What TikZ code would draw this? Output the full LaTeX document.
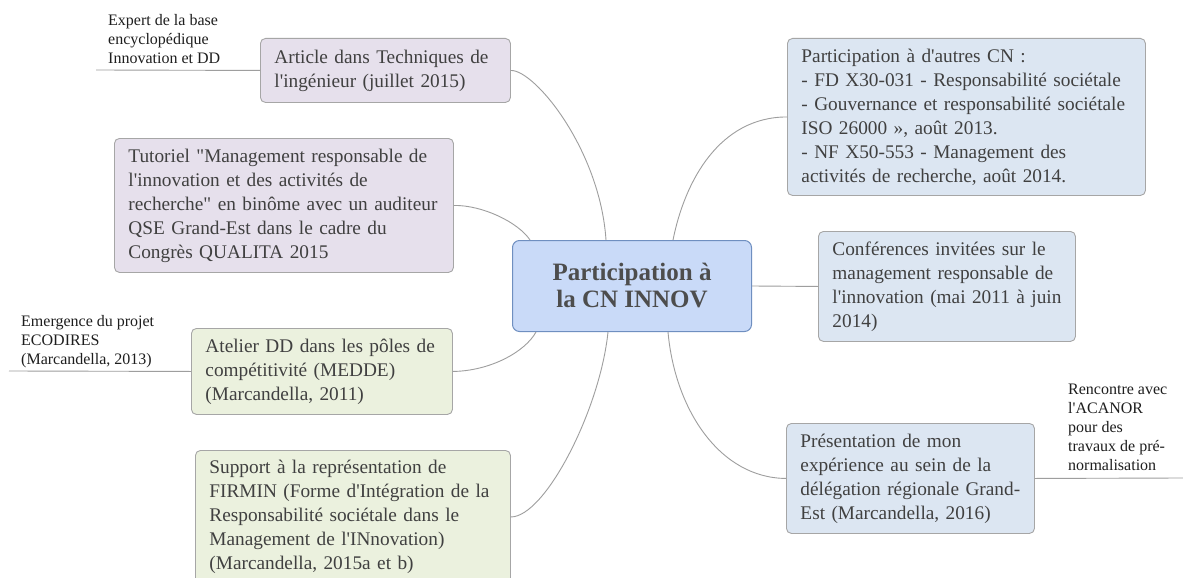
\documentclass[tikz,border=0pt]{standalone}
\usepackage{fontspec}
\setmainfont{Liberation Serif}[Ligatures=TeXOff]
\usetikzlibrary{calc}
\definecolor{purp}{HTML}{E6E0EC}
\definecolor{grn}{HTML}{EBF1DE}
\definecolor{blu}{HTML}{DCE6F2}
\definecolor{cfill}{HTML}{C9DAF8}
\definecolor{cline}{HTML}{6F8FC0}
\definecolor{boxline}{HTML}{A6A6A6}
\definecolor{connc}{HTML}{9E9E9E}
\definecolor{txt}{HTML}{404040}
\definecolor{ctxt}{HTML}{4D4D4D}
\definecolor{lbltxt}{HTML}{1E1E1E}
\tikzset{
  box/.style={draw=boxline, rounded corners=5pt, line width=0.9pt, anchor=north west,
    inner xsep=14pt, inner ysep=0pt, align=left, text=txt,
    font=\fontsize{19.3}{24}\selectfont},
  purplebox/.style={box, fill=purp},
  greenbox/.style={box, fill=grn},
  bluebox/.style={box, fill=blu},
  centerbox/.style={draw=cline, fill=cfill, rounded corners=7pt, line width=1pt,
    anchor=north west, inner sep=0pt, align=center, text=ctxt,
    font=\fontsize{25}{27}\selectfont\bfseries},
  lbl/.style={anchor=north west, inner sep=0pt, align=left, text=lbltxt,
    font=\fontsize{16}{19}\selectfont},
  conn/.style={draw=connc, line width=0.9pt},
}
\begin{document}
\begin{tikzpicture}[x=1pt,y=-1pt]
\useasboundingbox (0,0) rectangle (1183,578);
\fill[white] (0,0) rectangle (1183,578);

% centre
\node[centerbox, minimum width=239pt, minimum height=91pt] (c) at (512,240)
  {Participation à\\la CN INNOV};

% left side
\node[purplebox, text width=222pt, minimum height=64pt] (art) at (260,38)
  {Article dans Techniques de\\l'ingénieur (juillet 2015)};
\node[purplebox, text width=311pt, minimum height=134pt] (tut) at (114,138)
  {Tutoriel "Management responsable de\\l'innovation et des activités de\\recherche" en binôme avec un auditeur\\QSE Grand-Est dans le cadre du\\Congrès QUALITA 2015};
\node[greenbox, text width=233pt, minimum height=86pt] (ate) at (191,328)
  {Atelier DD dans les pôles de\\compétitivité (MEDDE)\\(Marcandella, 2011)};
\node[greenbox, text width=287pt, minimum height=133pt] (sup) at (195,450)
  {Support à la représentation de\\FIRMIN (Forme d'Intégration de la\\Responsabilité sociétale dans le\\Management de l'INnovation)\\(Marcandella, 2015a et b)};

% right side
\node[bluebox, text width=330pt, minimum height=157pt] (pa) at (787,38)
  {Participation à d'autres CN :\\- FD X30-031 - Responsabilité sociétale\\- Gouvernance et responsabilité sociétale\\ISO 26000 », août 2013.\\- NF X50-553 - Management des\\activités de recherche, août 2014.};
\node[bluebox, text width=229pt, minimum height=110pt] (conf) at (818,231)
  {Conférences invitées sur le\\management responsable de\\l'innovation (mai 2011 à juin\\2014)};
\node[bluebox, text width=220pt, minimum height=110pt] (pres) at (786,423)
  {Présentation de mon\\expérience au sein de la\\délégation régionale Grand-\\Est (Marcandella, 2016)};

% small labels
\node[lbl] (lexp) at (108,14) {Expert de la base\\encyclopédique\\Innovation et DD};
\node[lbl] (lem) at (21,315.5) {Emergence du projet\\ECODIRES\\(Marcandella, 2013)};
\node[lbl] (lren) at (1068,384) {Rencontre avec\\l'ACANOR\\pour des\\travaux de pré-\\normalisation};
\coordinate (eexp) at (96,70);
\coordinate (eem) at (9,371);
\coordinate (eren) at (1183,478);

% connectors
\draw[conn] (art.east) .. controls (535,70) and (600,150) .. ($(c.north west)+(94,0)$);
\draw[conn] (tut.east) .. controls (482,205) and (518,222) .. ($(c.north west)+(18,0)$);
\draw[conn] ($(c.north west)+(161,0)$) .. controls (685,180) and (720,117) .. (pa.west);
\draw[conn] (c.east) -- (conf.west);
\draw[conn] (ate.east) .. controls (490,371) and (525,352) .. ($(c.south west)+(24,0)$);
\draw[conn] (sup.east) .. controls (545,517) and (600,410) .. ($(c.south west)+(96,0)$);
\draw[conn] ($(c.south west)+(156,0)$) .. controls (675,410) and (720,478) .. (pres.west);

\draw[conn] (eexp) -- (art.west);
\draw[conn] (eem) -- (ate.west);
\draw[conn] (pres.east) -- (eren);
\end{tikzpicture}
\end{document}
